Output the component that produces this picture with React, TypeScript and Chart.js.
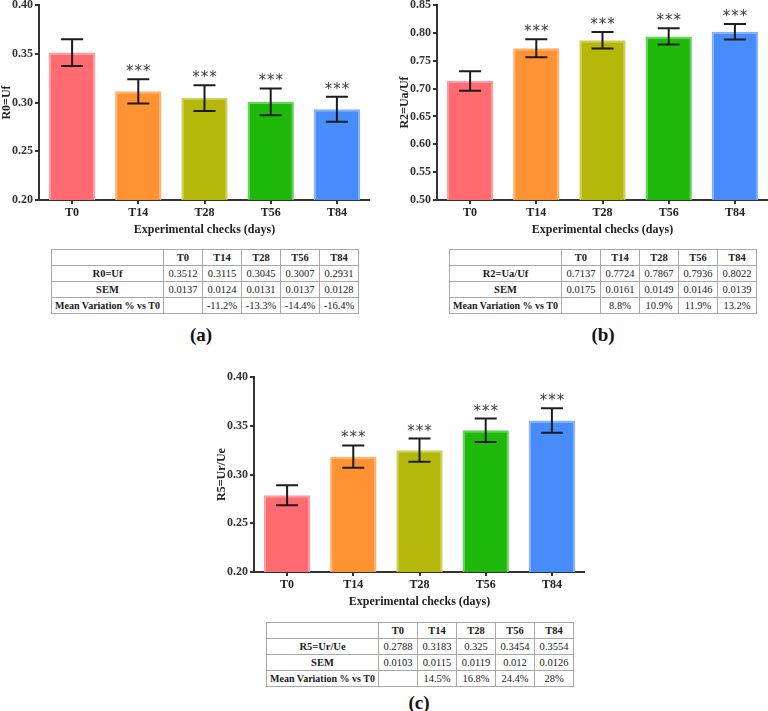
import React, { useEffect, useRef } from "react";
import { Chart, registerables } from "chart.js";

Chart.register(...registerables);

const categories = ["T0", "T14", "T28", "T56", "T84"];

const r0Values = [0.3512, 0.3115, 0.3045, 0.3007, 0.2931];
const r0Sem = [0.0137, 0.0124, 0.0131, 0.0137, 0.0128];
const r0Variation = ["", "-11.2%", "-13.3%", "-14.4%", "-16.4%"];

const r2Values = [0.7137, 0.7724, 0.7867, 0.7936, 0.8022];
const r2Sem = [0.0175, 0.0161, 0.0149, 0.0146, 0.0139];
const r2Variation = ["", "8.8%", "10.9%", "11.9%", "13.2%"];

const r5Values = [0.2788, 0.3183, 0.325, 0.3454, 0.3554];
const r5Sem = [0.0103, 0.0115, 0.0119, 0.012, 0.0126];
const r5Variation = ["", "14.5%", "16.8%", "24.4%", "28%"];

const significant = [false, true, true, true, true];

const barColors = ["#ff6b70", "#ff9233", "#b5b70b", "#1fb90c", "#478cfa"];
const barBorders = ["#ff9a9d", "#ffb26f", "#cfd05a", "#66d059", "#80b0ff"];

const SERIF = '"Liberation Serif", "Times New Roman", serif';

type PanelProps = {
  left: number;
  top: number;
  width: number;
  height: number;
  padTop: number;
  values: number[];
  sems: number[];
  yMin: number;
  yMax: number;
  yTitle: string;
};

function BarPanel(p: PanelProps) {
  const ref = useRef<HTMLCanvasElement>(null);
  useEffect(() => {
    const errPlugin = {
      id: "errbars",
      afterDatasetsDraw(chart: any) {
        const ctx = chart.ctx;
        const meta = chart.getDatasetMeta(0);
        const ys = chart.scales.y;
        ctx.save();
        ctx.strokeStyle = "#1c1c1c";
        ctx.lineWidth = 2;
        meta.data.forEach((bar: any, i: number) => {
          const x = bar.x;
          const t = ys.getPixelForValue(p.values[i] + p.sems[i]);
          const b = ys.getPixelForValue(p.values[i] - p.sems[i]);
          ctx.beginPath();
          ctx.moveTo(x, t);
          ctx.lineTo(x, b);
          ctx.moveTo(x - 11, t);
          ctx.lineTo(x + 11, t);
          ctx.moveTo(x - 11, b);
          ctx.lineTo(x + 11, b);
          ctx.stroke();
          if (significant[i]) {
            ctx.fillStyle = "#3a3a3a";
            ctx.font = '15px "DejaVu Sans", sans-serif';
            ctx.textAlign = "center";
            ctx.textBaseline = "alphabetic";
            const cy = t - 12;
            for (const dx of [-8.5, 0, 8.5]) {
              ctx.fillText("*", x + dx, cy + 9);
            }
          }
        });
        ctx.restore();
      },
    };
    const tickFont = { family: SERIF, size: 12, weight: "bold" as const };
    const chart = new Chart(ref.current as HTMLCanvasElement, {
      type: "bar",
      data: {
        labels: categories,
        datasets: [
          {
            data: p.values,
            backgroundColor: barColors,
            borderColor: barBorders,
            borderWidth: { top: 2, left: 2, right: 2, bottom: 0 },
            borderSkipped: "start",
            barPercentage: 0.7,
            categoryPercentage: 1,
          },
        ],
      },
      options: {
        responsive: false,
        animation: false,
        devicePixelRatio: 1,
        layout: { padding: { top: p.padTop, right: 0, left: 0, bottom: 0 } },
        plugins: { legend: { display: false }, tooltip: { enabled: false } },
        scales: {
          x: {
            offset: true,
            grid: {
              offset: false,
              drawOnChartArea: false,
              drawTicks: true,
              tickLength: 4,
              color: "#333",
              lineWidth: 2,
            },
            border: { display: true, color: "#333", width: 2 },
            ticks: { font: tickFont, color: "#222", padding: 2, maxRotation: 0 },
            title: {
              display: true,
              text: "Experimental checks (days)",
              font: tickFont,
              color: "#222",
              padding: 0,
            },
            afterFit: (s: any) => {
              s.height = 37;
            },
          },
          y: {
            min: p.yMin,
            max: p.yMax,
            grid: {
              drawOnChartArea: false,
              drawTicks: true,
              tickLength: 4,
              color: "#333",
              lineWidth: 2,
            },
            border: { display: true, color: "#333", width: 2 },
            ticks: {
              stepSize: 0.05,
              font: tickFont,
              color: "#333",
              padding: 2,
              callback: (v: any) => Number(v).toFixed(2),
            },
            title: {
              display: true,
              text: p.yTitle,
              font: tickFont,
              color: "#222",
              padding: 0,
            },
            afterFit: (s: any) => {
              s.width = 39;
            },
          },
        },
      },
      plugins: [errPlugin],
    } as any);
    return () => chart.destroy();
  }, []);
  return (
    <canvas
      ref={ref}
      width={p.width}
      height={p.height}
      style={{ position: "absolute", left: p.left, top: p.top, width: p.width, height: p.height }}
    />
  );
}

type TableProps = {
  left: number;
  top: number;
  rowLabel: string;
  values: number[];
  sems: number[];
  variations: string[];
};

function DataTable(t: TableProps) {
  const cell: React.CSSProperties = {
    border: "1px solid #a8a8a8",
    height: 15,
    padding: 0,
    textAlign: "center",
    verticalAlign: "middle",
    lineHeight: "15px",
    whiteSpace: "nowrap",
    overflow: "hidden",
  };
  const head: React.CSSProperties = { ...cell, fontWeight: "bold" };
  return (
    <table
      style={{
        position: "absolute",
        left: t.left,
        top: t.top,
        borderCollapse: "collapse",
        tableLayout: "fixed",
        width: 307,
        font: `10.5px ${SERIF}`,
        color: "#1a1a1a",
      }}
    >
      <colgroup>
        <col style={{ width: 112 }} />
        {categories.map((c) => (
          <col key={c} style={{ width: 39 }} />
        ))}
      </colgroup>
      <tbody>
        <tr>
          <td style={cell}></td>
          {categories.map((c) => (
            <td key={c} style={head}>
              {c}
            </td>
          ))}
        </tr>
        <tr>
          <td style={head}>{t.rowLabel}</td>
          {t.values.map((v, i) => (
            <td key={i} style={cell}>
              {String(v)}
            </td>
          ))}
        </tr>
        <tr>
          <td style={head}>SEM</td>
          {t.sems.map((v, i) => (
            <td key={i} style={cell}>
              {String(v)}
            </td>
          ))}
        </tr>
        <tr>
          <td style={{ ...head, fontSize: 10 }}>Mean Variation % vs T0</td>
          {t.variations.map((v, i) => (
            <td key={i} style={cell}>
              {v}
            </td>
          ))}
        </tr>
      </tbody>
    </table>
  );
}

function Label({ x, y, text }: { x: number; y: number; text: string }) {
  return (
    <div
      style={{
        position: "absolute",
        left: x,
        top: y,
        transform: "translate(-50%, -50%)",
        font: `bold 19px ${SERIF}`,
        color: "#111",
        whiteSpace: "nowrap",
      }}
    >
      {text}
    </div>
  );
}

export default function App() {
  return (
    <div
      style={{
        position: "fixed",
        left: 0,
        top: 0,
        width: 768,
        height: 711,
        background: "#fff",
        overflow: "hidden",
      }}
    >
      <BarPanel
        left={0}
        top={-5}
        width={370}
        height={242}
        padTop={10}
        values={r0Values}
        sems={r0Sem}
        yMin={0.2}
        yMax={0.4}
        yTitle="R0=Uf"
      />
      <BarPanel
        left={398}
        top={-5}
        width={370}
        height={242}
        padTop={10}
        values={r2Values}
        sems={r2Sem}
        yMin={0.5}
        yMax={0.85}
        yTitle="R2=Ua/Uf"
      />
      <BarPanel
        left={215}
        top={360}
        width={370}
        height={249}
        padTop={17}
        values={r5Values}
        sems={r5Sem}
        yMin={0.2}
        yMax={0.4}
        yTitle="R5=Ur/Ue"
      />
      <DataTable left={51} top={249} rowLabel="R0=Uf" values={r0Values} sems={r0Sem} variations={r0Variation} />
      <DataTable left={449} top={249} rowLabel="R2=Ua/Uf" values={r2Values} sems={r2Sem} variations={r2Variation} />
      <DataTable left={266} top={622} rowLabel="R5=Ur/Ue" values={r5Values} sems={r5Sem} variations={r5Variation} />
      <Label x={201} y={335} text="(a)" />
      <Label x={603} y={335} text="(b)" />
      <Label x={419} y={703} text="(c)" />
    </div>
  );
}
